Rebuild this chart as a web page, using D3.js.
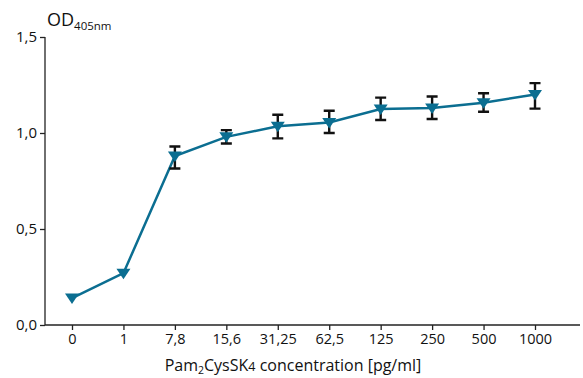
<!DOCTYPE html>
<html><head><meta charset="utf-8">
<script src="https://cdn.jsdelivr.net/npm/d3@7"></script>
<style>body{margin:0;background:#fff}svg{display:block}text{font-family:"Open Sans","Noto Sans",sans-serif;fill:#111}</style>
</head><body><svg id="c" width="583" height="378"></svg>
<script>
const categories = ["0","1","7,8","15,6","31,25","62,5","125","250","500","1000"];
const means = [0.14,0.27,0.88,0.98,1.035,1.055,1.125,1.13,1.158,1.20];
const errLow = [null,null,0.815,0.945,0.972,1.0,1.068,1.073,1.111,1.127];
const errHigh = [null,null,0.93,1.015,1.095,1.116,1.184,1.19,1.207,1.26];
const yTicks = [0,0.5,1.0,1.5];

const svg = d3.select("#c");
const x = d3.scalePoint().domain(categories).range([72,535]);
const y = d3.scaleLinear().domain([0,1.5]).range([325,37]);
const color = "#0b6e91";

// axes
const yAx = svg.append("g").attr("transform","translate(45,0)")
  .call(d3.axisLeft(y).tickValues(yTicks).tickSize(5).tickPadding(3)
    .tickFormat(d=>d3.format(".1f")(d).replace(".",",")));
yAx.select(".domain").attr("stroke","#222").attr("stroke-width",1.3).attr("d","M0,37V325");
yAx.selectAll(".tick line").attr("stroke","#222").attr("stroke-width",1.3);
yAx.selectAll("text").style("font-size","15px").attr("fill","#111");

const xAx = svg.append("g").attr("transform","translate(0,325)")
  .call(d3.axisBottom(x).tickSize(5).tickPadding(4));
xAx.select(".domain").attr("stroke","#222").attr("stroke-width",1.3).attr("d","M45,0H580");
xAx.selectAll(".tick line").attr("stroke","#222").attr("stroke-width",1.3);
xAx.selectAll("text").style("font-size","14.5px").attr("fill","#111");

// titles
const yt = svg.append("text").attr("x",47).attr("y",26).style("font-size","18px");
yt.append("tspan").text("OD");
yt.append("tspan").attr("dy",3.5).style("font-size","11.5px").text("405nm");

const xt = svg.append("text").attr("x",293).attr("y",371).attr("text-anchor","middle").style("font-size","16px");
xt.append("tspan").text("Pam");
xt.append("tspan").attr("dy",3).style("font-size","10.5px").text("2");
xt.append("tspan").attr("dy",-3).text("CysSK");
xt.append("tspan").style("font-size","12.5px").text("4");
xt.append("tspan").text(" concentration [pg/ml]");

const data = categories.map((c,i)=>({c,m:means[i],lo:errLow[i],hi:errHigh[i]}));

// line
svg.append("path").datum(data)
  .attr("fill","none").attr("stroke",color).attr("stroke-width",2.5)
  .attr("d",d3.line().x(d=>x(d.c)).y(d=>y(d.m)));

// error bars
const eb = svg.append("g").attr("stroke","#111").attr("stroke-width",2.4).attr("fill","none");
data.filter(d=>d.lo!=null).forEach(d=>{
  const cx = x(d.c);
  eb.append("path").attr("d",`M${cx},${y(d.hi)}V${y(d.lo)}M${cx-5.5},${y(d.hi)}H${cx+5.5}M${cx-5.5},${y(d.lo)}H${cx+5.5}`);
});

// markers (downward triangles)
svg.append("g").selectAll("path").data(data).join("path")
  .attr("fill",color)
  .attr("d",d=>{const cx=x(d.c), cy=y(d.m); return `M${cx-7},${cy-4.5}H${cx+7}L${cx},${cy+6}Z`;});
</script></body></html>
